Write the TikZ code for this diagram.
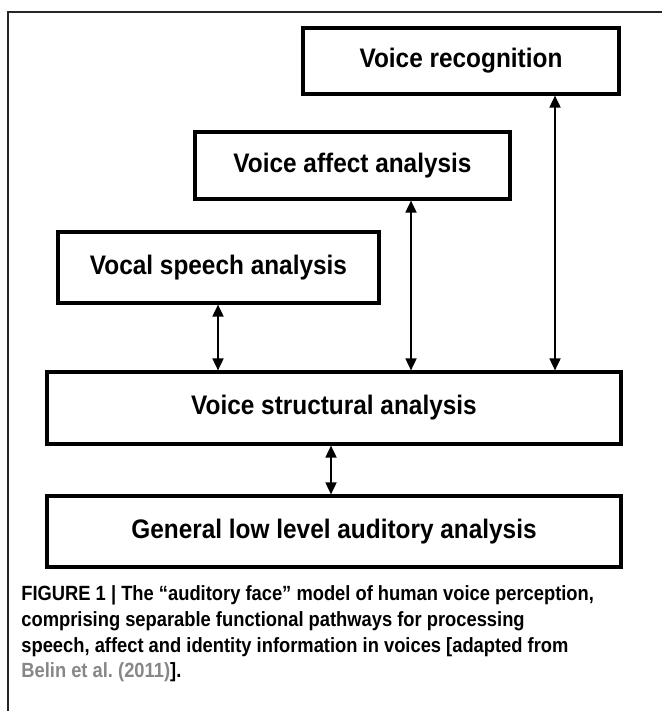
\documentclass[tikz,border=0pt]{standalone}
\usepackage{fontspec}
\setmainfont{Liberation Sans}
\newfontfamily\boxfont[FakeStretch=0.91]{Liberation Sans}
\newfontfamily\capfont[FakeStretch=0.89]{Liberation Sans}
\usetikzlibrary{arrows.meta}

\tikzset{
    stage/.style={draw, line width=1.6pt, inner sep=0pt,
        font=\boxfont\bfseries\fontsize{13.4}{15}\selectfont},
    link/.style={line width=0.9pt, {Triangle[length=6pt,width=5.5pt]}-{Triangle[length=6pt,width=5.5pt]}},
    caption/.style={anchor=base west, inner sep=0pt,
        font=\capfont\bfseries\fontsize{10.3}{12}\selectfont},
}
\definecolor{citegray}{RGB}{135,135,135}

\begin{document}
\begin{tikzpicture}[x=0.5pt, y=-0.5pt]
    \useasboundingbox (0,0) rectangle (662,711);
    % panel frame
    \draw[line width=1pt, black!85] (8,711) -- (8,12) -- (662,12);

    % the five stages
    \node[stage, minimum width=158pt, minimum height=33pt] (recog) at (461,61) {Voice recognition};
    \node[stage, minimum width=157.5pt, minimum height=33.5pt] (affect) at (352.5,165.5) {Voice affect analysis};
    \node[stage, minimum width=160.5pt, minimum height=35.5pt] (speech) at (218.5,267.5) {Vocal speech analysis};
    \node[stage, minimum width=287pt, minimum height=36pt] (struct) at (334,408) {Voice structural analysis};
    \node[stage, minimum width=287pt, minimum height=35.5pt] (lowlevel) at (334,531.5) {General low level auditory analysis};

    % two-way links
    \coordinate (xspeech) at (218,0);
    \coordinate (xaffect) at (411,0);
    \coordinate (xrecog) at (555,0);
    \coordinate (xlow) at (331,0);
    \draw[link] (speech.south -| xspeech) -- (struct.north -| xspeech);
    \draw[link] (affect.south -| xaffect) -- (struct.north -| xaffect);
    \draw[link] (recog.south -| xrecog) -- (struct.north -| xrecog);
    \draw[link] (struct.south -| xlow) -- (lowlevel.north -| xlow);

    % caption
    \node[caption] (cap1) at (21,600) {FIGURE 1 | The “auditory face” model of human voice perception,};
    \node[caption] (cap2) at (21,626) {comprising separable functional pathways for processing};
    \node[caption] (cap3) at (21,652) {speech, affect and identity information in voices [adapted from};
    \node[caption] (cap4) at (21,677) {\textcolor{citegray}{Belin et al.\ (2011)}].};
\end{tikzpicture}
\end{document}
